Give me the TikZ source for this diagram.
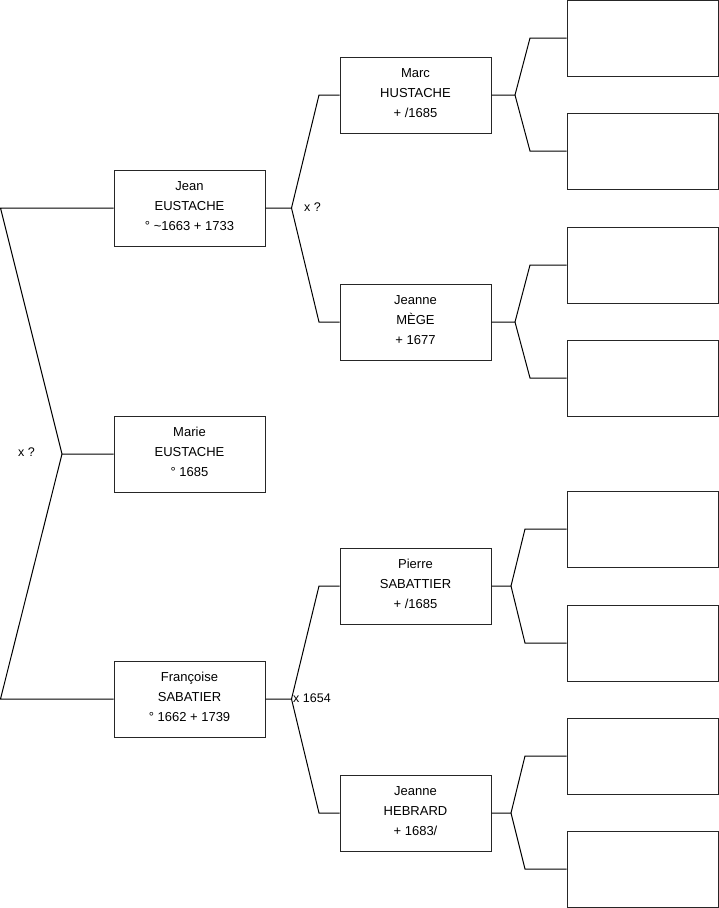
\documentclass[tikz,border=0pt]{standalone}
\usepackage{fontspec}
\setmainfont{Liberation Sans}
\begin{document}
\begin{tikzpicture}[x=1pt,y=-1pt,
  person/.style={draw=black!85,line width=1pt,minimum width=151pt,minimum height=76pt,align=center,inner sep=0pt,font=\fontsize{13}{20}\selectfont,fill=white},
  conn/.style={draw=black,line width=1pt},
  lbl/.style={font=\fontsize{12.5}{14}\selectfont,inner sep=0pt}]
\useasboundingbox (0,0) rectangle (719,908);
% generation 1
\node[person] (J) at (189.5,208) {Jean\\EUSTACHE\\° \textasciitilde 1663 + 1733\vphantom{p}\raisebox{-4pt}{}};
\node[person] (M) at (189.5,454) {Marie\\EUSTACHE\\° 1685\raisebox{-4pt}{}};
\node[person] (F) at (189.5,699) {Françoise\\SABATIER\\° 1662 + 1739\raisebox{-4pt}{}};
% generation 2
\node[person] (Ma) at (415.5,95) {Marc\\HUSTACHE\\+ /1685\raisebox{-4pt}{}};
\node[person] (Me) at (415.5,322) {Jeanne\\MÈGE\\+ 1677\raisebox{-4pt}{}};
\node[person] (P) at (415.5,586) {Pierre\\SABATTIER\\+ /1685\raisebox{-4pt}{}};
\node[person] (H) at (415.5,813) {Jeanne\\HEBRARD\\+ 1683/\raisebox{-4pt}{}};
% generation 3 (empty)
\node[person] (e1) at (642.5,38) {};
\node[person] (e2) at (642.5,151) {};
\node[person] (e3) at (642.5,265) {};
\node[person] (e4) at (642.5,378) {};
\node[person] (e5) at (642.5,529) {};
\node[person] (e6) at (642.5,643) {};
\node[person] (e7) at (642.5,756) {};
\node[person] (e8) at (642.5,869) {};
% junctions
\coordinate (jM) at (62,454);
\coordinate (pJ) at (0.5,208);
\coordinate (pF) at (0.5,699);
\coordinate (jJ) at (291.5,208);
\coordinate (pMa) at (319,95);
\coordinate (pMe) at (319,322);
\coordinate (jF) at (291.5,699);
\coordinate (pP) at (319,586);
\coordinate (pH) at (319,813);
\coordinate (jMa) at (515,95);
\coordinate (q1) at (530,38);
\coordinate (q2) at (530,151);
\coordinate (jMe) at (515,322);
\coordinate (q3) at (530,265);
\coordinate (q4) at (530,378);
\coordinate (jP) at (511,586);
\coordinate (q5) at (525,529);
\coordinate (q6) at (525,643);
\coordinate (jH) at (511,813);
\coordinate (q7) at (525,756);
\coordinate (q8) at (525,869);
% connectors
\draw[conn] (M.west) -- (jM) -- (pJ) -- (J.west);
\draw[conn] (jM) -- (pF) -- (F.west);
\draw[conn] (J.east) -- (jJ) -- (pMa) -- (Ma.west);
\draw[conn] (jJ) -- (pMe) -- (Me.west);
\draw[conn] (F.east) -- (jF) -- (pP) -- (P.west);
\draw[conn] (jF) -- (pH) -- (H.west);
\draw[conn] (Ma.east) -- (jMa) -- (q1) -- (e1.west);
\draw[conn] (jMa) -- (q2) -- (e2.west);
\draw[conn] (Me.east) -- (jMe) -- (q3) -- (e3.west);
\draw[conn] (jMe) -- (q4) -- (e4.west);
\draw[conn] (P.east) -- (jP) -- (q5) -- (e5.west);
\draw[conn] (jP) -- (q6) -- (e6.west);
\draw[conn] (H.east) -- (jH) -- (q7) -- (e7.west);
\draw[conn] (jH) -- (q8) -- (e8.west);
% labels
\node[lbl] (l1) at (26.5,452) {x ?};
\node[lbl] (l2) at (312.5,207) {x ?};
\node[lbl,anchor=west] (l3) at (293,698) {x 1654};
\end{tikzpicture}
\end{document}
